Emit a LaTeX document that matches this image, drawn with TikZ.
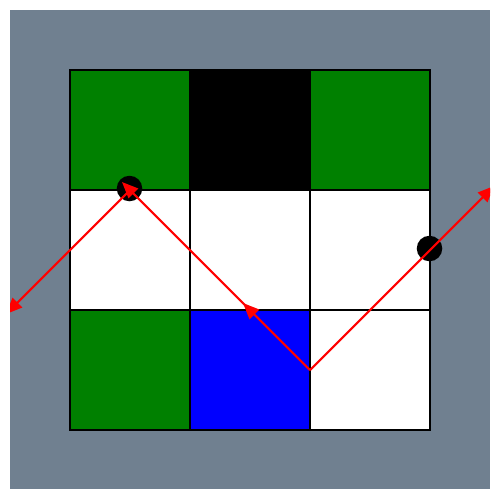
\documentclass[tikz,border=0pt]{standalone}
\usetikzlibrary{arrows.meta}
\definecolor{slate}{RGB}{112,128,144}
\definecolor{dgreen}{RGB}{0,128,0}
\tikzset{
  cell/.style={draw=black, line width=0.38pt},
  ray/.style={red, line width=0.6pt, -{Triangle[length=4.6pt,width=3.8pt]}},
  dot/.style={circle, fill=black, inner sep=0pt, minimum size=0.255cm}
}
\begin{document}
\begin{tikzpicture}[x=0.01cm,y=-0.01cm]
\useasboundingbox (0,0) rectangle (500,499);
\fill[slate] (10,10) rectangle (490,489);
% cells
\filldraw[cell, fill=dgreen] (70,70) rectangle (190,190);
\filldraw[cell, fill=black] (190,70) rectangle (310,190);
\filldraw[cell, fill=dgreen] (310,70) rectangle (430,190);
\filldraw[cell, fill=white] (70,190) rectangle (190,310);
\filldraw[cell, fill=white] (190,190) rectangle (310,310);
\filldraw[cell, fill=white] (310,190) rectangle (430,310);
\filldraw[cell, fill=dgreen] (70,310) rectangle (190,430);
\filldraw[cell, fill=blue] (190,310) rectangle (310,430);
\filldraw[cell, fill=white] (310,310) rectangle (430,430);
% dots
\node[dot] (d1) at (129.5,188.5) {};
\node[dot] (d2) at (429.5,248.5) {};
% ray points
\coordinate (s) at (310,370);
\coordinate (m) at (243,303);
\coordinate (p) at (250,310);
\coordinate (q) at (122,182);
\coordinate (r) at (130,190);
\coordinate (l) at (6,314);
\coordinate (e) at (494,186);
\begin{scope}
\clip (10,10) rectangle (490,489);
\draw[ray] (s) -- (m);
\draw[ray] (p) -- (q);
\draw[ray] (r) -- (l);
\draw[ray] (s) -- (e);
\end{scope}
\end{tikzpicture}
\end{document}
